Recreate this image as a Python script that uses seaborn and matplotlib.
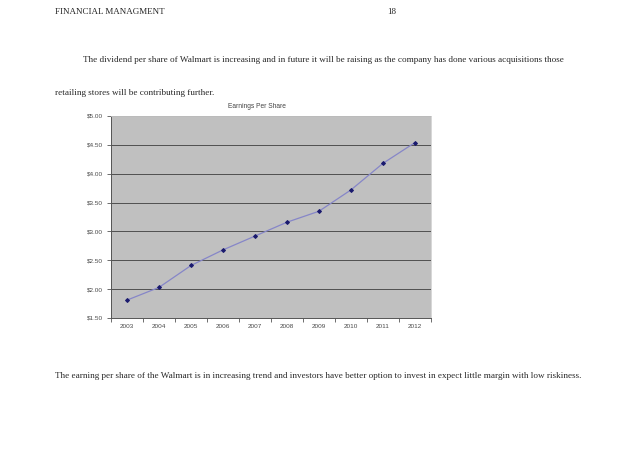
import matplotlib
matplotlib.use("Agg")
import matplotlib.pyplot as plt
import seaborn as sns
import pandas as pd
from matplotlib.ticker import FuncFormatter, MultipleLocator

# ── data ─────────────────────────────────────────────────────
years = ["2003", "2004", "2005", "2006", "2007", "2008", "2009", "2010", "2011", "2012"]
eps = [1.81, 2.03, 2.41, 2.68, 2.92, 3.16, 3.35, 3.72, 4.18, 4.54]
y_ticks = [1.50, 2.00, 2.50, 3.00, 3.50, 4.00, 4.50, 5.00]

header_left = "FINANCIAL MANAGMENT"
page_no = "18"
para_1 = ("The dividend per share of Walmart is increasing and in future it will be raising "
          "as the company has done various acquisitions those")
para_2 = "retailing stores will be contributing further."
para_3 = ("The earning per share of the Walmart is in increasing trend and investors have "
          "better option to invest in expect little margin with low riskiness.")
chart_title = "Earnings Per Share"

df = pd.DataFrame({"year": years, "eps": eps})

# ── figure ───────────────────────────────────────────────────
sns.set_style("white")
plt.rcParams["font.family"] = ["Liberation Sans", "DejaVu Sans"]

fig = plt.figure(figsize=(6.38, 4.51), dpi=100)
ax = fig.add_axes([111 / 638, 1 - 318 / 451, 320 / 638, 202 / 451])
ax.set_facecolor("#c0c0c0")

sns.lineplot(data=df, x="year", y="eps", ax=ax, color="#8686c8", linewidth=0.9,
             marker="D", markersize=2.0, markerfacecolor="#1a1a6e",
             markeredgecolor="#1a1a6e")

ax.set_xlim(-0.5, len(years) - 0.5)
ax.set_ylim(y_ticks[0], y_ticks[-1])
ax.set_yticks(y_ticks)
ax.yaxis.set_major_formatter(FuncFormatter(lambda v, p: f"${v:.2f}"))
ax.set_xticks(range(len(years)))
ax.set_xticklabels(years)
ax.xaxis.set_minor_locator(MultipleLocator(1, offset=0.5))
ax.grid(axis="y", color="#505050", linewidth=0.7)
ax.set_axisbelow(True)
ax.set_xlabel("")
ax.set_ylabel("")

ax.tick_params(axis="x", which="major", length=0, pad=4, labelsize=4.6, labelcolor="#4a4a4a")
ax.tick_params(axis="x", which="minor", length=3, width=0.6, color="#555555", direction="out")
ax.tick_params(axis="y", length=3, width=0.6, color="#555555", direction="out",
               pad=2.5, labelsize=4.6, labelcolor="#4a4a4a")
ax.tick_params(bottom=True, left=True, which="both")

for side in ["left", "bottom"]:
    ax.spines[side].set_color("#555555")
    ax.spines[side].set_linewidth(0.7)
for side in ["top", "right"]:
    ax.spines[side].set_color("#d0d0d0")
    ax.spines[side].set_linewidth(0.6)

fig.text(257 / 638, 1 - 106 / 451, chart_title, ha="center", va="center",
         fontsize=4.8, color="#444444")

# ── document text around the chart ───────────────────────────
serif = ["Liberation Serif", "DejaVu Serif"]
fig.text(55 / 638, 1 - 12 / 451, header_left, family=serif, fontsize=6.5, va="center")
fig.text(392 / 638, 1 - 12 / 451, page_no, family=serif, fontsize=6.5, va="center", ha="center")
fig.text(83 / 638, 1 - 60 / 451, para_1, family=serif, fontsize=6.6, va="center")
fig.text(55 / 638, 1 - 93 / 451, para_2, family=serif, fontsize=6.6, va="center")
fig.text(55 / 638, 1 - 376 / 451, para_3, family=serif, fontsize=6.6, va="center")

plt.savefig("out.png", dpi=100)
